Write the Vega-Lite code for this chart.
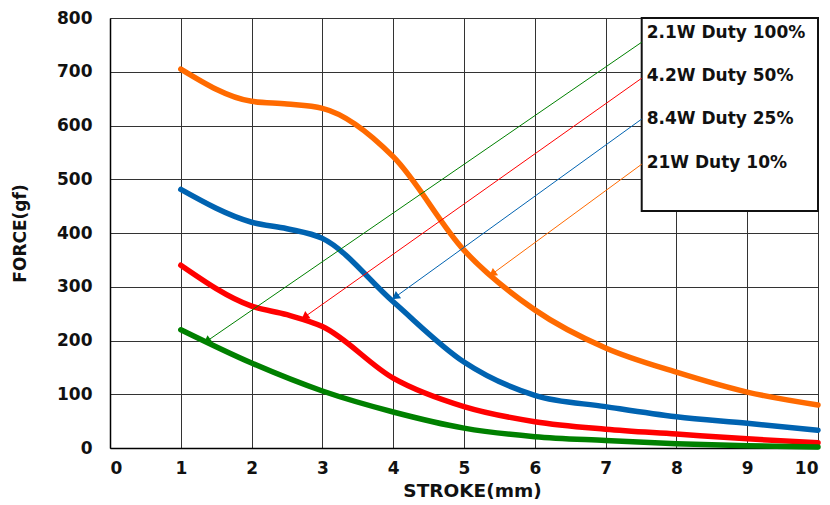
{
  "$schema": "https://vega.github.io/schema/vega-lite/v6.json",
  "autosize": "none",
  "width": 708,
  "height": 430,
  "padding": {"left": 110, "top": 18, "right": 12, "bottom": 57},
  "background": "white",
  "config": {
    "view": {"stroke": null},
    "font": "DejaVu Sans",
    "axis": {
      "labelFont": "DejaVu Sans",
      "labelFontWeight": "bold",
      "labelFontSize": 17,
      "labelColor": "#111",
      "titleFont": "DejaVu Sans",
      "titleFontWeight": "bold",
      "titleColor": "#111",
      "gridColor": "#333",
      "gridOpacity": 1,
      "gridWidth": 1,
      "domainColor": "#000",
      "domainWidth": 1.5,
      "ticks": false
    }
  },
  "datasets": {
    "curves": [
      {"series": "21W Duty 10%", "stroke": 1, "force": 705},
      {"series": "21W Duty 10%", "stroke": 2, "force": 645},
      {"series": "21W Duty 10%", "stroke": 2.5, "force": 640},
      {"series": "21W Duty 10%", "stroke": 3, "force": 632},
      {"series": "21W Duty 10%", "stroke": 4, "force": 542},
      {"series": "21W Duty 10%", "stroke": 5, "force": 368},
      {"series": "21W Duty 10%", "stroke": 6, "force": 257},
      {"series": "21W Duty 10%", "stroke": 7, "force": 186},
      {"series": "21W Duty 10%", "stroke": 8, "force": 141},
      {"series": "21W Duty 10%", "stroke": 9, "force": 104},
      {"series": "21W Duty 10%", "stroke": 10, "force": 80},
      {"series": "8.4W Duty 25%", "stroke": 1, "force": 481},
      {"series": "8.4W Duty 25%", "stroke": 2, "force": 420},
      {"series": "8.4W Duty 25%", "stroke": 2.5, "force": 408},
      {"series": "8.4W Duty 25%", "stroke": 3, "force": 390},
      {"series": "8.4W Duty 25%", "stroke": 4, "force": 272},
      {"series": "8.4W Duty 25%", "stroke": 5, "force": 160},
      {"series": "8.4W Duty 25%", "stroke": 6, "force": 98},
      {"series": "8.4W Duty 25%", "stroke": 7, "force": 77},
      {"series": "8.4W Duty 25%", "stroke": 8, "force": 58},
      {"series": "8.4W Duty 25%", "stroke": 9, "force": 46},
      {"series": "8.4W Duty 25%", "stroke": 10, "force": 33},
      {"series": "4.2W Duty 50%", "stroke": 1, "force": 340},
      {"series": "4.2W Duty 50%", "stroke": 2, "force": 264},
      {"series": "4.2W Duty 50%", "stroke": 2.5, "force": 248},
      {"series": "4.2W Duty 50%", "stroke": 3, "force": 226},
      {"series": "4.2W Duty 50%", "stroke": 4, "force": 130},
      {"series": "4.2W Duty 50%", "stroke": 5, "force": 77},
      {"series": "4.2W Duty 50%", "stroke": 6, "force": 49},
      {"series": "4.2W Duty 50%", "stroke": 7, "force": 35},
      {"series": "4.2W Duty 50%", "stroke": 8, "force": 26},
      {"series": "4.2W Duty 50%", "stroke": 9, "force": 17},
      {"series": "4.2W Duty 50%", "stroke": 10, "force": 10},
      {"series": "2.1W Duty 100%", "stroke": 1, "force": 220},
      {"series": "2.1W Duty 100%", "stroke": 2, "force": 158},
      {"series": "2.1W Duty 100%", "stroke": 3, "force": 106},
      {"series": "2.1W Duty 100%", "stroke": 4, "force": 67},
      {"series": "2.1W Duty 100%", "stroke": 5, "force": 37},
      {"series": "2.1W Duty 100%", "stroke": 6, "force": 21},
      {"series": "2.1W Duty 100%", "stroke": 7, "force": 14},
      {"series": "2.1W Duty 100%", "stroke": 8, "force": 8},
      {"series": "2.1W Duty 100%", "stroke": 9, "force": 4},
      {"series": "2.1W Duty 100%", "stroke": 10, "force": 2}
    ],
    "arrows": [
      {"series": "2.1W Duty 100%", "x1": 7.51, "y1": 755, "x2": 1.37, "y2": 199},
      {"series": "4.2W Duty 50%", "x1": 7.51, "y1": 688, "x2": 2.75, "y2": 244},
      {"series": "8.4W Duty 25%", "x1": 7.51, "y1": 612, "x2": 4.03, "y2": 281},
      {"series": "21W Duty 10%", "x1": 7.51, "y1": 528, "x2": 5.4, "y2": 324}
    ],
    "box": [{"x1": 7.51, "x2": 10, "y1": 441, "y2": 800}],
    "labels": [
      {"label": "2.1W Duty 100%", "x": 7.58, "y": 772},
      {"label": "4.2W Duty 50%", "x": 7.58, "y": 692},
      {"label": "8.4W Duty 25%", "x": 7.58, "y": 612},
      {"label": "21W  Duty 10%", "x": 7.58, "y": 530}
    ]
  },
  "layer": [
    {
      "data": {"name": "curves"},
      "mark": {"type": "line", "interpolate": "monotone", "strokeWidth": 5.5, "strokeCap": "round"},
      "encoding": {
        "x": {
          "field": "stroke", "type": "quantitative",
          "scale": {"domain": [0, 10], "nice": false},
          "axis": {"values": [0,1,2,3,4,5,6,7,8,9,10], "format": "d", "title": "STROKE(mm)", "titleFontSize": 18.5, "titleX": 362, "labelPadding": 12, "titlePadding": 5, "grid": true}
        },
        "y": {
          "field": "force", "type": "quantitative",
          "scale": {"domain": [0, 800], "nice": false},
          "axis": {"values": [0,100,200,300,400,500,600,700,800], "format": "d", "title": "FORCE(gf)", "titleFontSize": 17, "labelPadding": 18, "titlePadding": 27, "grid": true}
        },
        "color": {
          "field": "series", "type": "nominal",
          "scale": {
            "domain": ["2.1W Duty 100%", "4.2W Duty 50%", "8.4W Duty 25%", "21W Duty 10%"],
            "range": ["#008000", "#FF0000", "#0063B1", "#FF6A00"]
          },
          "legend": null
        }
      }
    },
    {
      "data": {"name": "box"},
      "mark": {"type": "rect", "fill": "white", "stroke": "#111", "strokeWidth": 2},
      "encoding": {
        "x": {"field": "x1", "type": "quantitative"},
        "x2": {"field": "x2"},
        "y": {"field": "y1", "type": "quantitative"},
        "y2": {"field": "y2"}
      }
    },
    {
      "data": {"name": "arrows"},
      "mark": {"type": "rule", "strokeWidth": 1},
      "encoding": {
        "x": {"field": "x1", "type": "quantitative"},
        "y": {"field": "y1", "type": "quantitative"},
        "x2": {"field": "x2"},
        "y2": {"field": "y2"},
        "color": {
          "field": "series", "type": "nominal",
          "scale": {
            "domain": ["2.1W Duty 100%", "4.2W Duty 50%", "8.4W Duty 25%", "21W Duty 10%"],
            "range": ["#3E9E3E", "#FF4A4A", "#3A8BD0", "#FF8A3A"]
          },
          "legend": null
        }
      }
    },
    {
      "data": {"name": "arrows"},
      "mark": {"type": "point", "shape": "triangle-up", "filled": true, "opacity": 1, "size": 80, "angle": 234},
      "encoding": {
        "x": {"field": "x2", "type": "quantitative"},
        "y": {"field": "y2", "type": "quantitative"},
        "color": {
          "field": "series", "type": "nominal",
          "scale": {
            "domain": ["2.1W Duty 100%", "4.2W Duty 50%", "8.4W Duty 25%", "21W Duty 10%"],
            "range": ["#3E9E3E", "#FF4A4A", "#3A8BD0", "#FF8A3A"]
          },
          "legend": null
        }
      }
    },
    {
      "data": {"name": "labels"},
      "mark": {"type": "text", "align": "left", "baseline": "middle", "font": "DejaVu Sans", "fontWeight": "bold", "fontSize": 17, "color": "#111"},
      "encoding": {
        "x": {"field": "x", "type": "quantitative"},
        "y": {"field": "y", "type": "quantitative"},
        "text": {"field": "label"}
      }
    }
  ]
}
